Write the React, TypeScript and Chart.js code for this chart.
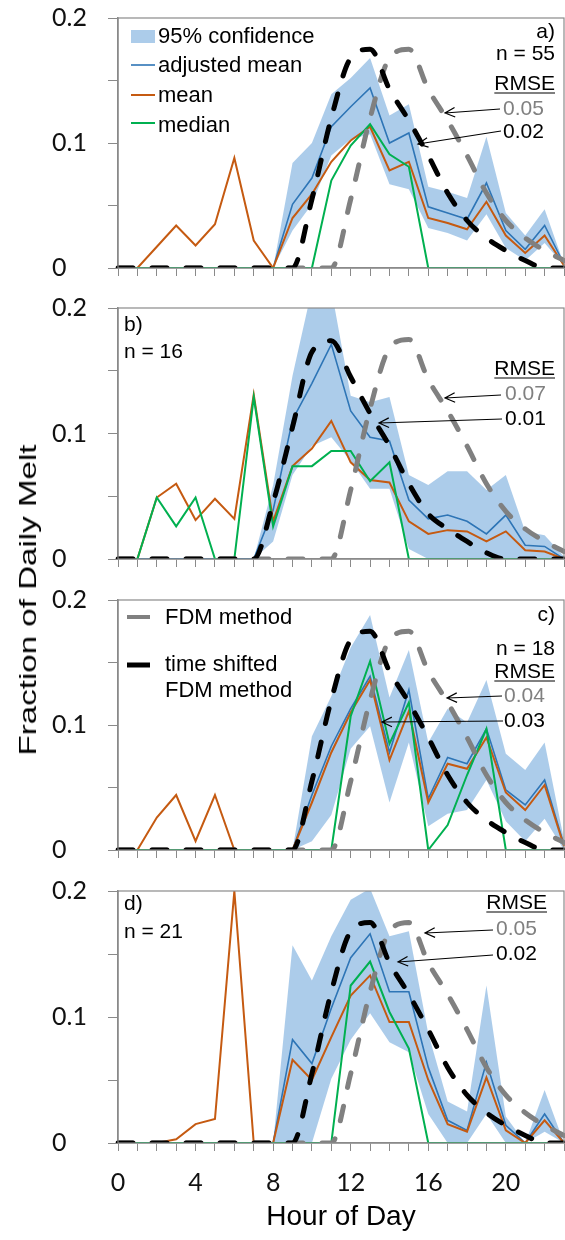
import React, { useEffect, useRef } from 'react';
import { Chart, registerables } from 'chart.js';

Chart.register(...registerables);

// ---------- categories & tick labels ----------
const HOURS = ['0','1','2','3','4','5','6','7','8','9','10','11','12','13','14','15','16','17','18','19','20','21','22','23'];
const X_TICK_LABELS = ['0', '4', '8', '12', '16', '20'];
const Y_TICK_VALUES = [0, 0.1, 0.2];
const Y_TICK_LABELS = ['0', '0.1', '0.2'];

// ---------- FDM model curves ----------
const FDM = [0,0,0,0,0,0,0,0,0,0,0,0,0.055,0.12,0.168,0.175,0.143,0.118,0.09,0.06,0.038,0.024,0.014,0.006];
const FDM_SHIFT_A = [0,0,0,0,0,0,0,0,0,0,0.055,0.12,0.168,0.175,0.143,0.118,0.09,0.06,0.038,0.024,0.014,0.006,0,0];
const FDM_SHIFT_B = [0,0,0,0,0,0,0,0,0.045,0.105,0.165,0.174,0.145,0.116,0.09,0.06,0.036,0.024,0.014,0.005,0,0,0,0];
const FDM_SHIFT_C = [0,0,0,0,0,0,0,0,0,0,0.055,0.12,0.168,0.175,0.143,0.118,0.09,0.06,0.038,0.024,0.014,0.006,0,0];
const FDM_SHIFT_D = [0,0,0,0,0,0,0,0,0,0,0.055,0.12,0.168,0.175,0.143,0.118,0.09,0.06,0.038,0.024,0.014,0.006,0,0];

// ---------- panel a ----------
const A_MEAN = [0,0,0.017,0.034,0.018,0.035,0.088,0.022,0,0.040,0.059,0.085,0.102,0.113,0.078,0.085,0.040,0.036,0.031,0.053,0.026,0.012,0.026,0.002];
const A_ADJ = [0,0,0,0,0,0,0,0,0,0.051,0.072,0.113,0.129,0.144,0.100,0.108,0.049,0.044,0.039,0.068,0.030,0.015,0.034,0.003];
const A_MEDIAN = [0,0,0,0,0,0,0,0,0,0,0,0.070,0.098,0.115,0.091,0.081,0,0,0,0,0,0,0,0];
const A_UPPER = [0,0,0,0,0,0,0,0,0,0.084,0.100,0.139,0.152,0.168,0.122,0.131,0.065,0.061,0.056,0.105,0.044,0.026,0.047,0.003];
const A_LOWER = [0,0,0,0,0,0,0,0,0,0.030,0.051,0.090,0.103,0.107,0.067,0.063,0.032,0.028,0.022,0.043,0.016,0.006,0.020,0.002];

// ---------- panel b ----------
const B_MEAN = [0,0,0.049,0.060,0.031,0.048,0.032,0.131,0.030,0.074,0.088,0.110,0.077,0.063,0.061,0.030,0.020,0.023,0.022,0.014,0.022,0.007,0.006,0];
const B_ADJ = [0,0,0,0,0,0,0,0,0.039,0.111,0.140,0.171,0.118,0.097,0.094,0.047,0.032,0.035,0.030,0.020,0.035,0.011,0.010,0];
const B_MEDIAN = [0,0,0.049,0.026,0.049,0,0,0.129,0.026,0.074,0.074,0.086,0.086,0.062,0.077,0,0,0,0,0,0,0,0,0];
const B_UPPER = [0,0,0,0,0,0,0,0,0.059,0.146,0.215,0.215,0.130,0.125,0.129,0.067,0.059,0.070,0.070,0.055,0.067,0.022,0.019,0.002];
const B_LOWER = [0,0,0,0,0,0,0,0,0.014,0.067,0.090,0.097,0.078,0.056,0.056,0.008,0,0,0,0,0,0,0,0];

// ---------- panel c ----------
const C_MEAN = [0,0,0.026,0.044,0.007,0.044,0,0,0,0,0.038,0.078,0.110,0.136,0.072,0.111,0.038,0.069,0.065,0.090,0.046,0.032,0.052,0.003];
const C_ADJ = [0,0,0,0,0,0,0,0,0,0,0.044,0.083,0.113,0.139,0.078,0.128,0.041,0.074,0.069,0.097,0.048,0.036,0.056,0.004];
const C_MEDIAN = [0,0,0,0,0,0,0,0,0,0,0,0,0.107,0.151,0.085,0.118,0,0.020,0.060,0.097,0,0,0,0];
const C_UPPER = [0,0,0,0,0,0,0,0,0,0,0.091,0.123,0.162,0.188,0.122,0.160,0.086,0.113,0.102,0.136,0.077,0.064,0.086,0.008];
const C_LOWER = [0,0,0,0,0,0,0,0,0,0,0.007,0.028,0.081,0.099,0.038,0.086,0.019,0.029,0.032,0.056,0.023,0.007,0.025,0];

// ---------- panel d ----------
const D_MEAN = [0,0,0,0.003,0.015,0.019,0.2,0,0,0.066,0.050,0.084,0.117,0.133,0.096,0.096,0.050,0.015,0.009,0.052,0.010,0,0.018,0];
const D_ADJ = [0,0,0,0,0,0,0,0,0,0.082,0.063,0.107,0.147,0.166,0.120,0.120,0.060,0.018,0.010,0.064,0.014,0,0.023,0];
const D_MEDIAN = [0,0,0,0,0,0,0,0,0,0,0,0,0.125,0.144,0.104,0.075,0,0,0,0,0,0,0,0];
const D_UPPER = [0,0,0,0,0,0,0,0,0,0.157,0.129,0.164,0.193,0.202,0.164,0.168,0.087,0.033,0.025,0.125,0.021,0,0.042,0];
const D_LOWER = [0,0,0,0,0,0,0,0,0,0,0,0.051,0.082,0.103,0.080,0.072,0.023,0,0,0.023,0,0,0.009,0];

// ---------- styles ----------
const BAND = 'rgba(157,195,230,0.85)';
const BLUE = '#2e75b6';
const ORANGE = '#c55a11';
const GREEN = '#00b050';
const GRAY_DASH = '#808080';
const BLACK = '#000000';
const AXIS = '#8a8a8a';
const SANS = '"Liberation Sans", Arial, sans-serif';
const TICK_FONT = 'Lato, "Open Sans", sans-serif';

type Ann =
  | { k: 'text'; t: string; x: number; y: number; align?: CanvasTextAlign; color?: string; size?: number; underline?: boolean }
  | { k: 'arrow'; x1: number; y1: number; x2: number; y2: number }
  | { k: 'seg'; x1: number; x2: number; y: number; color: string; w: number }
  | { k: 'box'; x: number; y: number; w: number; h: number; color: string };

interface PanelCfg {
  top: number;
  height: number;
  xHeight: number;
  last: boolean;
  mean: number[];
  adj: number[];
  median: number[];
  upper: number[];
  lower: number[];
  shifted: number[];
  anns: Ann[];
}

const PANELS: PanelCfg[] = [
  {
    top: 0, height: 286, xHeight: 16, last: false,
    mean: A_MEAN, adj: A_ADJ, median: A_MEDIAN, upper: A_UPPER, lower: A_LOWER, shifted: FDM_SHIFT_A,
    anns: [
      { k: 'box', x: 131, y: 30, w: 24, h: 13, color: BAND },
      { k: 'text', t: '95% confidence', x: 158, y: 43, size: 22 },
      { k: 'seg', x1: 131, x2: 155, y: 65, color: BLUE, w: 1.6 },
      { k: 'text', t: 'adjusted mean', x: 158, y: 72, size: 22 },
      { k: 'seg', x1: 131, x2: 155, y: 95, color: ORANGE, w: 2 },
      { k: 'text', t: 'mean', x: 158, y: 102, size: 22 },
      { k: 'seg', x1: 131, x2: 155, y: 123, color: GREEN, w: 2 },
      { k: 'text', t: 'median', x: 158, y: 132, size: 22 },
      { k: 'text', t: 'a)', x: 555, y: 38, align: 'right' },
      { k: 'text', t: 'n = 55', x: 555, y: 60, align: 'right' },
      { k: 'text', t: 'RMSE', x: 555, y: 90, align: 'right', underline: true },
      { k: 'text', t: '0.05', x: 503, y: 115, color: GRAY_DASH },
      { k: 'text', t: '0.02', x: 503, y: 138 },
      { k: 'arrow', x1: 500, y1: 109, x2: 445, y2: 113 },
      { k: 'arrow', x1: 501, y1: 131, x2: 418, y2: 144 },
    ],
  },
  {
    top: 290, height: 287, xHeight: 16, last: false,
    mean: B_MEAN, adj: B_ADJ, median: B_MEDIAN, upper: B_UPPER, lower: B_LOWER, shifted: FDM_SHIFT_B,
    anns: [
      { k: 'text', t: 'b)', x: 124, y: 331 },
      { k: 'text', t: 'n = 16', x: 124, y: 358 },
      { k: 'text', t: 'RMSE', x: 555, y: 375, align: 'right', underline: true },
      { k: 'text', t: '0.07', x: 505, y: 400, color: GRAY_DASH },
      { k: 'text', t: '0.01', x: 505, y: 425 },
      { k: 'arrow', x1: 501, y1: 395, x2: 445, y2: 398 },
      { k: 'arrow', x1: 502, y1: 419, x2: 379, y2: 423 },
    ],
  },
  {
    top: 582, height: 286, xHeight: 16, last: false,
    mean: C_MEAN, adj: C_ADJ, median: C_MEDIAN, upper: C_UPPER, lower: C_LOWER, shifted: FDM_SHIFT_C,
    anns: [
      { k: 'seg', x1: 127, x2: 150, y: 617, color: GRAY_DASH, w: 4 },
      { k: 'text', t: 'FDM method', x: 165, y: 624, size: 22 },
      { k: 'seg', x1: 127, x2: 150, y: 665, color: BLACK, w: 5 },
      { k: 'text', t: 'time shifted', x: 165, y: 671, size: 22 },
      { k: 'text', t: 'FDM method', x: 165, y: 697, size: 22 },
      { k: 'text', t: 'c)', x: 555, y: 621, align: 'right' },
      { k: 'text', t: 'n = 18', x: 555, y: 655, align: 'right' },
      { k: 'text', t: 'RMSE', x: 555, y: 678, align: 'right', underline: true },
      { k: 'text', t: '0.04', x: 504, y: 702, color: GRAY_DASH },
      { k: 'text', t: '0.03', x: 504, y: 727 },
      { k: 'arrow', x1: 502, y1: 696, x2: 447, y2: 698 },
      { k: 'arrow', x1: 503, y1: 721, x2: 382, y2: 722 },
    ],
  },
  {
    top: 873, height: 367, xHeight: 97, last: true,
    mean: D_MEAN, adj: D_ADJ, median: D_MEDIAN, upper: D_UPPER, lower: D_LOWER, shifted: FDM_SHIFT_D,
    anns: [
      { k: 'text', t: 'd)', x: 124, y: 910 },
      { k: 'text', t: 'n = 21', x: 124, y: 938 },
      { k: 'text', t: 'RMSE', x: 547, y: 909, align: 'right', underline: true },
      { k: 'text', t: '0.05', x: 496, y: 935, color: GRAY_DASH },
      { k: 'text', t: '0.02', x: 496, y: 960 },
      { k: 'arrow', x1: 493, y1: 930, x2: 425, y2: 933 },
      { k: 'arrow', x1: 493, y1: 955, x2: 398, y2: 962 },
    ],
  },
];

function drawAnns(ctx: CanvasRenderingContext2D, anns: Ann[], top: number) {
  ctx.save();
  for (const a of anns) {
    if (a.k === 'text') {
      const size = a.size ?? 21;
      ctx.font = `${size}px ${SANS}`;
      ctx.fillStyle = a.color ?? '#000';
      ctx.textAlign = a.align ?? 'left';
      ctx.textBaseline = 'alphabetic';
      const y = a.y - top;
      ctx.fillText(a.t, a.x, y);
      if (a.underline) {
        const w = ctx.measureText(a.t).width;
        const x0 = (a.align === 'right') ? a.x - w : a.x;
        ctx.strokeStyle = a.color ?? '#000';
        ctx.lineWidth = 1.2;
        ctx.beginPath();
        ctx.moveTo(x0, y + 3);
        ctx.lineTo(x0 + w, y + 3);
        ctx.stroke();
      }
    } else if (a.k === 'arrow') {
      const y1 = a.y1 - top, y2 = a.y2 - top;
      ctx.strokeStyle = '#000';
      ctx.lineWidth = 1.2;
      ctx.beginPath();
      ctx.moveTo(a.x1, y1);
      ctx.lineTo(a.x2, y2);
      const ang = Math.atan2(y2 - y1, a.x2 - a.x1);
      const L = 11;
      ctx.moveTo(a.x2 - L * Math.cos(ang - 0.45), y2 - L * Math.sin(ang - 0.45));
      ctx.lineTo(a.x2, y2);
      ctx.lineTo(a.x2 - L * Math.cos(ang + 0.45), y2 - L * Math.sin(ang + 0.45));
      ctx.stroke();
    } else if (a.k === 'seg') {
      ctx.strokeStyle = a.color;
      ctx.lineWidth = a.w;
      ctx.beginPath();
      ctx.moveTo(a.x1, a.y - top);
      ctx.lineTo(a.x2, a.y - top);
      ctx.stroke();
    } else if (a.k === 'box') {
      ctx.fillStyle = a.color;
      ctx.fillRect(a.x, a.y - top, a.w, a.h);
    }
  }
  ctx.restore();
}

function Panel({ cfg }: { cfg: PanelCfg }) {
  const ref = useRef<HTMLCanvasElement>(null);
  useEffect(() => {
    const canvas = ref.current!;
    const line = (data: number[], color: string, width: number, order: number) => ({
      data, borderColor: color, borderWidth: width, pointRadius: 0, fill: false, tension: 0, order,
    });
    const dashed = (data: number[], color: string, order: number) => ({
      data, borderColor: color, borderWidth: 5, pointRadius: 0, fill: false,
      cubicInterpolationMode: 'monotone' as const, borderDash: [15, 19], borderCapStyle: 'round' as const, order,
    });
    const chart = new Chart(canvas, {
      type: 'line',
      data: {
        labels: HOURS,
        datasets: [
          { data: cfg.upper, borderWidth: 0, pointRadius: 0, fill: '+1', backgroundColor: BAND, borderColor: 'rgba(0,0,0,0)', order: 10 },
          { data: cfg.lower, borderWidth: 0, pointRadius: 0, fill: false, borderColor: 'rgba(0,0,0,0)', order: 10 },
          line(cfg.adj, BLUE, 1.6, 7),
          line(cfg.mean, ORANGE, 2, 6),
          line(cfg.median, GREEN, 2, 5),
          dashed(FDM, GRAY_DASH, 3),
          dashed(cfg.shifted, BLACK, 2),
        ] as any,
      },
      options: {
        animation: false,
        responsive: false,
        devicePixelRatio: 1,
        layout: { padding: { left: 52, top: 18, right: 1, bottom: 0 } },
        plugins: { legend: { display: false }, tooltip: { enabled: false } },
        scales: {
          x: {
            type: 'category',
            offset: false,
            grid: { display: true, drawOnChartArea: false, drawTicks: true, tickLength: 8, color: AXIS, offset: false, lineWidth: 1 },
            border: { display: true, color: AXIS, width: 1.5 },
            ticks: {
              display: true,
              autoSkip: false,
              maxRotation: 0,
              padding: 17,
              color: '#111',
              font: { family: TICK_FONT, size: 25 },
              callback: (_v: any, idx: number) => (cfg.last && X_TICK_LABELS.includes(HOURS[idx]) ? HOURS[idx] : ''),
            },
            title: {
              display: cfg.last,
              text: 'Hour of Day',
              color: '#000',
              font: { family: SANS, size: 28 },
              padding: { top: 0, bottom: 6 },
            },
            afterFit: (s: any) => {
              s.height = cfg.xHeight;
              s.paddingLeft = 0;
              s.paddingRight = 0;
            },
          },
          y: {
            min: 0,
            max: 0.2,
            grid: { display: true, drawOnChartArea: false, drawTicks: true, tickLength: 10, color: AXIS, lineWidth: 1 },
            border: { display: true, color: AXIS, width: 1.5 },
            ticks: {
              stepSize: 0.05,
              crossAlign: 'far',
              color: '#111',
              font: { family: TICK_FONT, size: 25 },
              callback: (v: any) => {
                const i = Y_TICK_VALUES.findIndex((t) => Math.abs(t - Number(v)) < 1e-6);
                return i >= 0 ? Y_TICK_LABELS[i] : '';
              },
            },
            afterFit: (s: any) => { s.width = 66; },
          },
        },
      } as any,
      plugins: [
        {
          id: 'frameAndNotes',
          afterDraw: (c: any) => {
            const ctx = c.ctx as CanvasRenderingContext2D;
            const ca = c.chartArea;
            ctx.save();
            ctx.strokeStyle = AXIS;
            ctx.lineWidth = 1.2;
            ctx.strokeRect(ca.left, ca.top, ca.right - ca.left, ca.bottom - ca.top);
            ctx.restore();
            drawAnns(ctx, cfg.anns, cfg.top);
          },
        },
      ],
    });
    return () => chart.destroy();
  }, []);
  return (
    <canvas
      ref={ref}
      width={565}
      height={cfg.height}
      style={{ position: 'absolute', left: 0, top: cfg.top, width: 565, height: cfg.height }}
    />
  );
}

export default function App() {
  return (
    <div style={{ position: 'absolute', left: 0, top: 0, width: 565, height: 1240, background: '#fff', overflow: 'hidden' }}>
      {PANELS.map((p, i) => (
        <Panel key={i} cfg={p} />
      ))}
      <div
        style={{
          position: 'absolute',
          left: 28,
          top: 600,
          transform: 'translate(-50%, -50%) rotate(-90deg) scaleX(1.38)',
          whiteSpace: 'nowrap',
          fontFamily: SANS,
          fontSize: 24,
          lineHeight: '24px',
          color: '#000',
        }}
      >
        Fraction of Daily Melt
      </div>
    </div>
  );
}
